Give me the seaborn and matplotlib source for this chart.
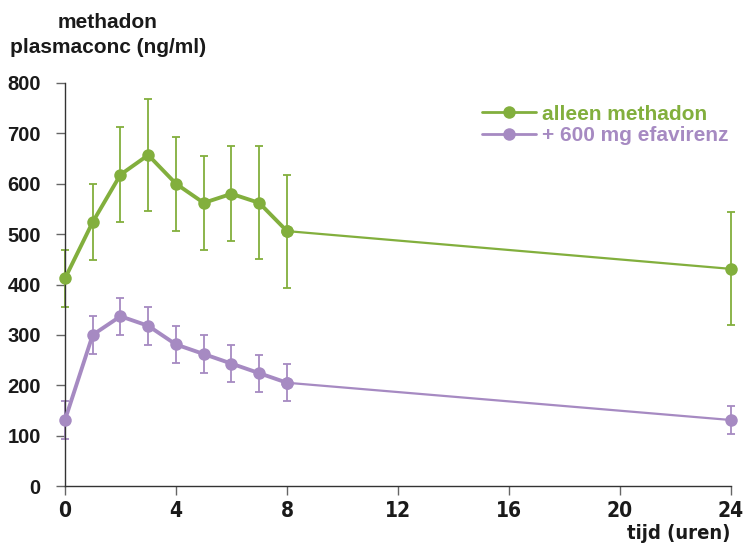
import matplotlib
matplotlib.use("Agg")
import matplotlib.pyplot as plt
import seaborn as sns
import pandas as pd
from matplotlib.lines import Line2D

hours = [0, 1, 2, 3, 4, 5, 6, 7, 8, 24]
methadon_alone = [412, 524, 618, 657, 600, 562, 580, 562, 506, 431]
methadon_alone_err = [56, 75, 94, 112, 93, 93, 94, 112, 112, 112]
with_efavirenz = [131, 300, 337, 318, 281, 262, 243, 224, 205, 131]
with_efavirenz_err = [38, 37, 37, 38, 37, 37, 37, 37, 37, 27]
series_labels = ["alleen methadon", "+ 600 mg efavirenz"]
x_ticks = [0, 4, 8, 12, 16, 20, 24]
y_ticks = [0, 100, 200, 300, 400, 500, 600, 700, 800]

green = "#82AF3D"
purple = "#A68AC2"
narrow = dict(family="DejaVu Sans", stretch="condensed")

sns.set_style("white")
plt.rcParams['font.family'] = ['Liberation Sans', 'DejaVu Sans']

fig = plt.figure(figsize=(7.45, 5.54), dpi=100)
ax = fig.add_axes([0.0872, 0.1227, 0.8940, 0.7275])

df = pd.DataFrame({"t": hours, "a": methadon_alone, "ae": methadon_alone_err,
                   "b": with_efavirenz, "be": with_efavirenz_err})

for col, ecol, color in [("a", "ae", green), ("b", "be", purple)]:
    ax.errorbar(df["t"], df[col], yerr=df[ecol], fmt="none", ecolor=color,
                elinewidth=1.3, capsize=3, capthick=1.3, zorder=2)
    early = df[df["t"] <= 8]
    late = df[df["t"] >= 8]
    sns.lineplot(data=early, x="t", y=col, ax=ax, color=color, lw=2.8,
                 marker="o", markersize=9, markeredgewidth=0, zorder=3)
    sns.lineplot(data=late, x="t", y=col, ax=ax, color=color, lw=1.6,
                 marker="o", markersize=9, markeredgewidth=0, zorder=3)

ax.set_xlim(0, 24)
ax.set_ylim(0, 800)
ax.set_xticks(x_ticks)
ax.set_yticks(y_ticks)
ax.set_xlabel("")
ax.set_ylabel("")
for s in ["top", "right"]:
    ax.spines[s].set_visible(False)
for s in ["left", "bottom"]:
    ax.spines[s].set_color("#333333")
    ax.spines[s].set_linewidth(1.0)
ax.tick_params(axis="both", which="both", direction="out", length=6.5, width=1.0,
               color="#666666", labelcolor="#1a1a1a", bottom=True, left=True)
ax.tick_params(axis="y", pad=11)
ax.tick_params(axis="x", pad=4)
for lab in ax.get_yticklabels():
    lab.set_fontweight("bold")
    lab.set_fontsize(14.5)
for lab in ax.get_xticklabels():
    lab.set_fontweight("bold")
    lab.set_fontsize(15)
    lab.set_family(narrow["family"])
    lab.set_stretch(narrow["stretch"])
for l in ax.lines:
    l.set_clip_on(False)
for c in ax.collections:
    c.set_clip_on(False)

fig.text(0.145, 0.960, "methadon", ha="center", va="center",
         fontsize=15, fontweight="bold", color="#1a1a1a")
fig.text(0.145, 0.915, "plasmaconc (ng/ml)", ha="center", va="center",
         fontsize=15, fontweight="bold", color="#1a1a1a")
fig.text(0.911, 0.019, "tijd (uren)", ha="center", va="bottom",
         fontsize=14.5, fontweight="bold", color="#1a1a1a",
         family=narrow["family"], stretch=narrow["stretch"])

handles = [Line2D([0], [0], color=green, lw=2.0, marker="o", markersize=9, markeredgewidth=0),
           Line2D([0], [0], color=purple, lw=2.0, marker="o", markersize=9, markeredgewidth=0)]
leg = ax.legend(handles, series_labels, loc="upper left", bbox_to_anchor=(0.61, 0.972),
                frameon=False, handlelength=2.6, handletextpad=0.3, labelspacing=0.12,
                borderpad=0.0, prop={"weight": "bold", "size": 15})
for t, c in zip(leg.get_texts(), [green, purple]):
    t.set_color(c)

fig.savefig("out.png", dpi=100)
